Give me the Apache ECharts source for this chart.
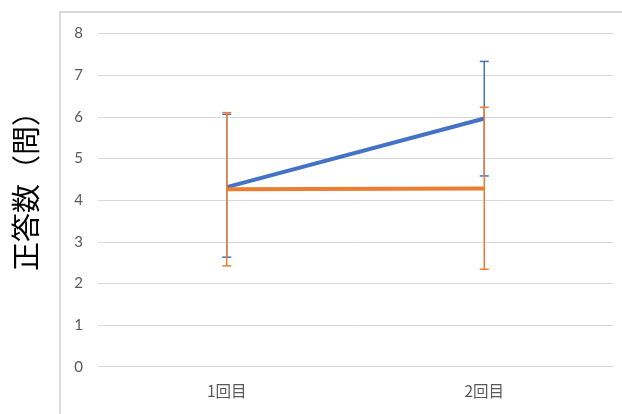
<!DOCTYPE html>
<html><head><meta charset="utf-8">
<script src="https://cdn.jsdelivr.net/npm/echarts@6/dist/echarts.min.js"></script>
<style>html,body{margin:0;padding:0;background:#fff}#c{width:622px;height:414px}</style>
</head><body><div id="c"></div>
<script>
const categories = ['1回目', '2回目'];
const blueMean = [4.31, 5.96];
const blueLow = [2.63, 4.58];
const blueHigh = [6.06, 7.33];
const orangeMean = [4.26, 4.28];
const orangeLow = [2.42, 2.34];
const orangeHigh = [6.10, 6.23];
const yTicks = [0, 8, 1];

const BLUE = '#4472c4', ORANGE = '#ed7d31';

function errSeries(low, high, color, z) {
  return {
    type: 'custom', z: z,
    data: categories.map((c, i) => [i, low[i], high[i]]),
    renderItem: function (params, api) {
      const lo = api.coord([api.value(0), api.value(1)]);
      const hi = api.coord([api.value(0), api.value(2)]);
      const w = 4.5;
      const st = { stroke: color, lineWidth: 1.5 };
      return { type: 'group', children: [
        { type: 'line', shape: { x1: lo[0], y1: lo[1], x2: hi[0], y2: hi[1] }, style: st },
        { type: 'line', shape: { x1: lo[0] - w, y1: lo[1], x2: lo[0] + w, y2: lo[1] }, style: st },
        { type: 'line', shape: { x1: hi[0] - w, y1: hi[1], x2: hi[0] + w, y2: hi[1] }, style: st }
      ]};
    }
  };
}

const chart = echarts.init(document.getElementById('c'));
chart.setOption({
  animation: false,
  graphic: [{ type: 'rect', shape: { x: 60, y: 12, width: 600, height: 450 },
    style: { fill: 'none', stroke: '#d9d9d9', lineWidth: 2 }, z: -10 }],
  grid: { left: 98, right: 9, top: 33.5, bottom: 47.3 },
  xAxis: { type: 'category', data: categories, boundaryGap: true,
    axisLine: { show: false }, axisTick: { show: false },
    axisLabel: { color: '#595959', fontSize: 15.5, margin: 17, fontFamily: 'Noto Sans CJK JP' } },
  yAxis: { type: 'value', min: yTicks[0], max: yTicks[1], interval: yTicks[2],
    name: '正答数（問）', nameLocation: 'middle', nameGap: 58, nameRotate: 90,
    nameTextStyle: { fontSize: 29, color: '#000', fontFamily: 'Noto Sans CJK JP', padding: [0, 0, 0, 32] },
    axisLine: { show: false }, axisTick: { show: false },
    axisLabel: { color: '#595959', fontSize: 15, margin: 15, fontFamily: 'Lato' },
    splitLine: { lineStyle: { color: '#d9d9d9', width: 1 } } },
  series: [
    { type: 'line', data: blueMean, symbol: 'none', z: 2,
      lineStyle: { color: BLUE, width: 4 } },
    errSeries(blueLow, blueHigh, BLUE, 3),
    { type: 'line', data: orangeMean, symbol: 'none', z: 4,
      lineStyle: { color: ORANGE, width: 4 } },
    errSeries(orangeLow, orangeHigh, ORANGE, 5)
  ]
});
</script></body></html>
